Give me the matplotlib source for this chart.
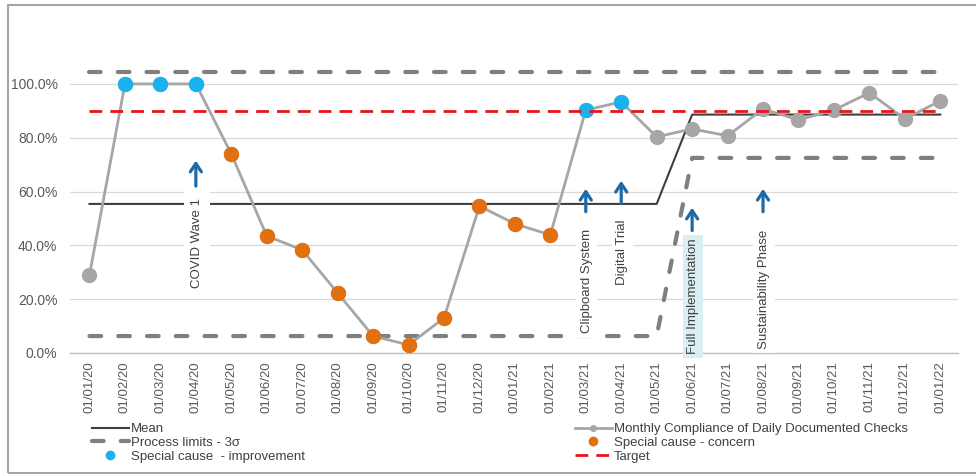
import matplotlib
matplotlib.use('Agg')
import matplotlib.pyplot as plt
from matplotlib.lines import Line2D
from matplotlib.patches import Rectangle
from matplotlib.ticker import FuncFormatter

plt.rcParams['font.family'] = ['Liberation Sans', 'DejaVu Sans']

# ---------------- data ----------------
dates = ['01/01/20', '01/02/20', '01/03/20', '01/04/20', '01/05/20', '01/06/20',
         '01/07/20', '01/08/20', '01/09/20', '01/10/20', '01/11/20', '01/12/20',
         '01/01/21', '01/02/21', '01/03/21', '01/04/21', '01/05/21', '01/06/21',
         '01/07/21', '01/08/21', '01/09/21', '01/10/21', '01/11/21', '01/12/21',
         '01/01/22']
compliance = [29.0, 100.0, 100.0, 100.0, 74.0, 43.5, 38.3, 22.3, 6.3, 3.0,
              13.0, 54.6, 48.0, 43.9, 90.3, 93.3, 80.3, 83.3, 80.7, 90.7,
              86.6, 90.3, 96.7, 87.0, 93.7]
mean = [55.4] * 17 + [88.6] * 8
upper_limit = [104.5] * 25
lower_limit = [6.3] * 17 + [72.5] * 8
target = [90.0] * 25
improvement_idx = [1, 2, 3, 14, 15]
concern_idx = [4, 5, 6, 7, 8, 9, 10, 11, 12, 13]

# annotations: label, x index, arrow bottom, arrow top, text centre y, box colour, pad
annotations = [
    ('COVID Wave 1', 3, 62.0, 71.5, 41.0, 'white', 0.55),
    ('Clipboard System', 14, 52.5, 61.0, 26.8, 'white', 0.35),
    ('Digital Trial', 15, 55.5, 64.0, 37.5, 'white', 0.35),
    ('Full Implementation', 17, 45.5, 54.0, 21.0, '#DAEEF3', 0.3),
    ('Sustainability Phase', 19, 52.5, 61.0, 23.8, 'white', 0.35),
]

# ---------------- figure ----------------
fig = plt.figure(figsize=(9.76, 4.75), dpi=100)
ax = fig.add_axes([70 / 976, (475 - 353) / 475, (958 - 70) / 976, (353 - 57) / 475])

x = list(range(len(dates)))

GRAY = '#A6A6A6'
ax.plot(x, compliance, color=GRAY, lw=2, marker='o', ms=10,
        mfc=GRAY, mec=GRAY, zorder=3)
ax.plot([x[i] for i in improvement_idx], [compliance[i] for i in improvement_idx],
        ls='none', marker='o', ms=10, mfc='#1AB2EE', mec='#1AB2EE', zorder=4)
ax.plot([x[i] for i in concern_idx], [compliance[i] for i in concern_idx],
        ls='none', marker='o', ms=10, mfc='#E3700F', mec='#E3700F', zorder=4)

ax.plot(x, mean, color='#3F3F3F', lw=1.5, zorder=2)
ax.plot(x, upper_limit, color='#7F7F7F', lw=3, dashes=(2.8, 4.1),
        dash_capstyle='round', zorder=2)
ax.plot(x, lower_limit, color='#7F7F7F', lw=3, dashes=(2.8, 4.1),
        dash_capstyle='round', zorder=2)
ax.plot(x, target, color='#E8141B', lw=2, dashes=(4.6, 2.9), zorder=5)

for label, xi, yb, yt, yc, bc, pad in annotations:
    ax.text(xi + 0.03, yc, label, rotation=90, ha='center', va='center',
            fontsize=9.5, color='#404040', zorder=6,
            bbox=dict(boxstyle='square,pad=%s' % pad, fc=bc, ec='none'))
    ax.annotate('', xy=(xi, yt), xytext=(xi, yb),
                arrowprops=dict(arrowstyle='->,head_length=0.6,head_width=0.4',
                                color='#1F6AA5', lw=2.3,
                                shrinkA=0, shrinkB=0), zorder=6)

ax.set_xlim(-0.55, 24.5)
ax.set_ylim(0, 110)
ax.set_yticks([0, 20, 40, 60, 80, 100])
ax.yaxis.set_major_formatter(FuncFormatter(lambda v, p: '%.1f%%' % v))
ax.set_xticks(x)
ax.set_xticklabels(dates, rotation=90)
ax.tick_params(axis='both', length=0, labelsize=9.5, colors='#595959')
ax.tick_params(axis='y', labelsize=10, pad=9)
ax.tick_params(axis='x', pad=6)
ax.grid(axis='y', color='#D9D9D9', lw=0.9, zorder=0)
ax.set_axisbelow(True)
for s in ['left', 'right', 'top']:
    ax.spines[s].set_visible(False)
ax.spines['bottom'].set_color('#BFBFBF')
ax.spines['bottom'].set_linewidth(1)

# ---------------- legends ----------------
h_mean = Line2D([], [], color='#3F3F3F', lw=1.5)
h_lim = Line2D([], [], color='#7F7F7F', lw=3, dashes=(2.8, 4.1), dash_capstyle='round')
h_imp = Line2D([], [], ls='none', marker='o', ms=6, mfc='#1AB2EE', mec='#1AB2EE')
h_mon = Line2D([], [], color=GRAY, lw=2, marker='o', ms=4, mfc=GRAY, mec=GRAY)
h_con = Line2D([], [], ls='none', marker='o', ms=6, mfc='#E3700F', mec='#E3700F')
h_tar = Line2D([], [], color='#E8141B', lw=2, dashes=(4.6, 2.9))

common = dict(frameon=False, fontsize=9.5, handlelength=2.8, handletextpad=0.15,
              labelspacing=0.12, borderpad=0, borderaxespad=0, loc='upper left',
              labelcolor='#404040')
leg1 = fig.legend([h_mean, h_lim, h_imp],
                  ['Mean', 'Process limits - 3\u03c3', 'Special cause  - improvement'],
                  bbox_to_anchor=(92 / 976, (475 - 423) / 475), **common)
leg2 = fig.legend([h_mon, h_con, h_tar],
                  ['Monthly Compliance of Daily Documented Checks',
                   'Special cause - concern', 'Target'],
                  bbox_to_anchor=(575 / 976, (475 - 423) / 475), **common)

# outer border
fig.add_artist(Rectangle((8 / 976, 2 / 475), 1.0, (470 - 2) / 475,
                         transform=fig.transFigure, fill=False,
                         ec='#A6A6A6', lw=1.5))

fig.savefig('out.png', dpi=100)
